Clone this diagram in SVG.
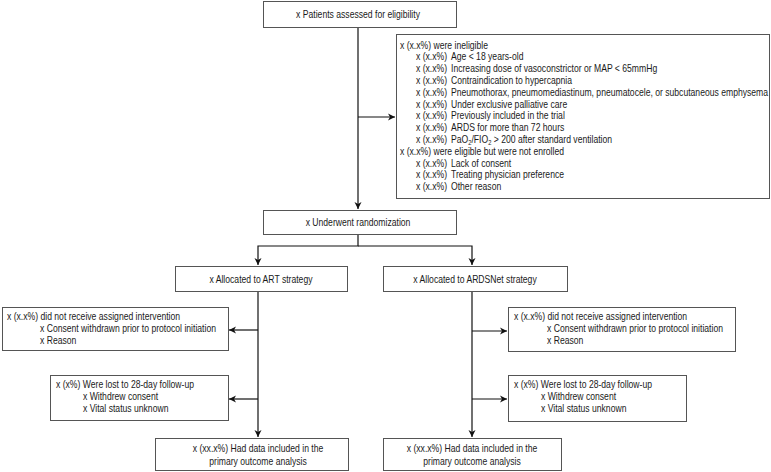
<svg xmlns="http://www.w3.org/2000/svg" width="771" height="472" viewBox="0 0 771 472">
<style>
.box{fill:#fff;stroke:#555;stroke-width:1}
.t{font-family:"Liberation Sans",Arial,sans-serif;font-size:10.5px;fill:#1a1a1a}
.c{text-anchor:middle}
.ln{fill:none;stroke:#111;stroke-width:1.2}
</style>
<defs>
<marker id="ah" markerUnits="userSpaceOnUse" markerWidth="9" markerHeight="8" refX="7" refY="4" orient="auto">
<path d="M0,0.5 L7,4 L0,7.5 L2,4 z" fill="#111"/>
</marker>
</defs>
<g id="connectors">
<line class="ln" x1="358" y1="28" x2="358" y2="209" marker-end="url(#ah)"/>
<line class="ln" x1="358" y1="117" x2="395" y2="117" marker-end="url(#ah)"/>
<polyline class="ln" points="358,234 358,246 258,246 258,265" marker-end="url(#ah)"/>
<polyline class="ln" points="358,246 472,246 472,265" marker-end="url(#ah)"/>
<line class="ln" x1="258" y1="292" x2="258" y2="437" marker-end="url(#ah)"/>
<line class="ln" x1="472" y1="292" x2="472" y2="437" marker-end="url(#ah)"/>
<line class="ln" x1="258" y1="330" x2="229" y2="330" marker-end="url(#ah)"/>
<line class="ln" x1="258" y1="399" x2="229" y2="399" marker-end="url(#ah)"/>
<line class="ln" x1="472" y1="331" x2="507" y2="331" marker-end="url(#ah)"/>
<line class="ln" x1="472" y1="399" x2="507" y2="399" marker-end="url(#ah)"/>
</g>
<g id="assessed">
<rect class="box" x="263.5" y="1.5" width="193" height="26"/>
<text class="t c" transform="translate(358 18) scale(0.82 1)">x Patients assessed for eligibility</text>
</g>
<g id="ineligible">
<rect class="box" x="396.5" y="34.5" width="373" height="164"/>
<text class="t" transform="translate(400 48.5) scale(0.82 1)">x (x.x%) were ineligible</text>
<text class="t" transform="translate(416 60.3) scale(0.82 1)">x (x.x%)</text><text class="t" transform="translate(451 60.3) scale(0.82 1)">Age &lt; 18 years-old</text>
<text class="t" transform="translate(416 72.1) scale(0.82 1)">x (x.x%)</text><text class="t" transform="translate(451 72.1) scale(0.82 1)">Increasing dose of vasoconstrictor or MAP &lt; 65mmHg</text>
<text class="t" transform="translate(416 83.9) scale(0.82 1)">x (x.x%)</text><text class="t" transform="translate(451 83.9) scale(0.82 1)">Contraindication to hypercapnia</text>
<text class="t" transform="translate(416 95.7) scale(0.82 1)">x (x.x%)</text><text class="t" transform="translate(451 95.7) scale(0.82 1)">Pneumothorax, pneumomediastinum, pneumatocele, or subcutaneous emphysema</text>
<text class="t" transform="translate(416 107.5) scale(0.82 1)">x (x.x%)</text><text class="t" transform="translate(451 107.5) scale(0.82 1)">Under exclusive palliative care</text>
<text class="t" transform="translate(416 119.3) scale(0.82 1)">x (x.x%)</text><text class="t" transform="translate(451 119.3) scale(0.82 1)">Previously included in the trial</text>
<text class="t" transform="translate(416 131.1) scale(0.82 1)">x (x.x%)</text><text class="t" transform="translate(451 131.1) scale(0.82 1)">ARDS for more than 72 hours</text>
<text class="t" transform="translate(416 142.9) scale(0.82 1)">x (x.x%)</text><text class="t" transform="translate(451 142.9) scale(0.82 1)">PaO<tspan font-size="7" dy="2">2</tspan><tspan dy="-2">/FIO</tspan><tspan font-size="7" dy="2">2</tspan><tspan dy="-2"> &gt; 200 after standard ventilation</tspan></text>
<text class="t" transform="translate(400 154.7) scale(0.82 1)">x (x.x%) were eligible but were not enrolled</text>
<text class="t" transform="translate(416 166.5) scale(0.82 1)">x (x.x%)</text><text class="t" transform="translate(451 166.5) scale(0.82 1)">Lack of consent</text>
<text class="t" transform="translate(416 178.3) scale(0.82 1)">x (x.x%)</text><text class="t" transform="translate(451 178.3) scale(0.82 1)">Treating physician preference</text>
<text class="t" transform="translate(416 190.1) scale(0.82 1)">x (x.x%)</text><text class="t" transform="translate(451 190.1) scale(0.82 1)">Other reason</text>
</g>
<g id="randomization">
<rect class="box" x="263.5" y="210.5" width="193" height="24"/>
<text class="t c" transform="translate(358 226) scale(0.82 1)">x Underwent randomization</text>
</g>
<g id="art">
<rect class="box" x="175.5" y="266.5" width="172" height="25"/>
<text class="t c" transform="translate(261 283) scale(0.82 1)">x Allocated to ART strategy</text>
</g>
<g id="ardsnet">
<rect class="box" x="383.5" y="266.5" width="184" height="25"/>
<text class="t c" transform="translate(475 283) scale(0.82 1)">x Allocated to ARDSNet strategy</text>
</g>
<g id="art-notreceived">
<rect class="box" x="2.5" y="307.5" width="226" height="43"/>
<text class="t" transform="translate(7 320) scale(0.82 1)">x (x.x%) did not receive assigned intervention</text>
<text class="t" transform="translate(40 331.8) scale(0.82 1)">x  Consent withdrawn prior to protocol initiation</text>
<text class="t" transform="translate(40 343.6) scale(0.82 1)">x Reason</text>
</g>
<g id="ards-notreceived">
<rect class="box" x="508.5" y="307.5" width="227" height="44"/>
<text class="t" transform="translate(514 320) scale(0.82 1)">x (x.x%) did not receive assigned intervention</text>
<text class="t" transform="translate(547 331.8) scale(0.82 1)">x Consent withdrawn prior to protocol initiation</text>
<text class="t" transform="translate(547 343.6) scale(0.82 1)">x Reason</text>
</g>
<g id="art-lost">
<rect class="box" x="50.5" y="375.5" width="178" height="45"/>
<text class="t" transform="translate(56 388) scale(0.82 1)">x (x%) Were lost to 28-day follow-up</text>
<text class="t" transform="translate(83 399.8) scale(0.82 1)">x Withdrew consent</text>
<text class="t" transform="translate(83 411.6) scale(0.82 1)">x Vital status unknown</text>
</g>
<g id="ards-lost">
<rect class="box" x="508.5" y="375.5" width="178" height="46"/>
<text class="t" transform="translate(514 388) scale(0.82 1)">x (x%) Were lost to 28-day follow-up</text>
<text class="t" transform="translate(541 399.8) scale(0.82 1)">x Withdrew consent</text>
<text class="t" transform="translate(541 411.6) scale(0.82 1)">x Vital status unknown</text>
</g>
<g id="art-analysis">
<rect class="box" x="155.5" y="438.5" width="193" height="32"/>
<text class="t c" transform="translate(258 452) scale(0.82 1)">x (xx.x%) Had data included in the</text>
<text class="t c" transform="translate(258 465) scale(0.82 1)">primary outcome analysis</text>
</g>
<g id="ards-analysis">
<rect class="box" x="383.5" y="438.5" width="178" height="32"/>
<text class="t c" transform="translate(472 452) scale(0.82 1)">x (xx.x%) Had data included in the</text>
<text class="t c" transform="translate(472 465) scale(0.82 1)">primary outcome analysis</text>
</g>
</svg>
